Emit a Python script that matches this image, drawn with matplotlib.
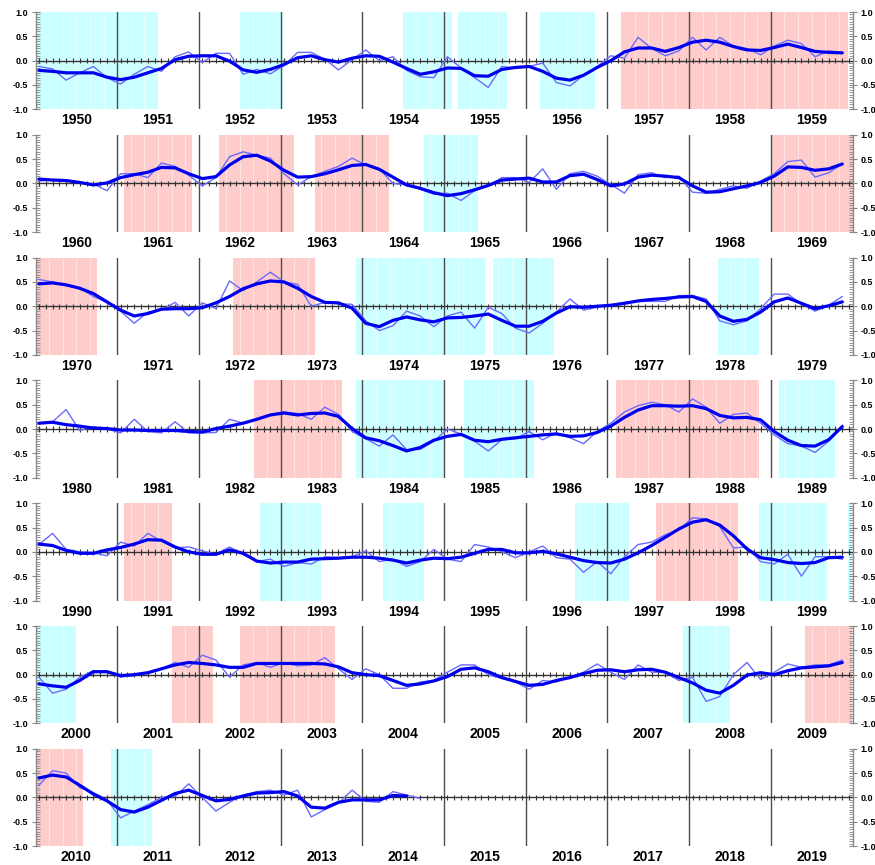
import numpy as np
import matplotlib
matplotlib.use("Agg")
import matplotlib.pyplot as plt
from matplotlib.ticker import MultipleLocator

# ---------------- data (bimonthly values, 6 per year) ----------------
decade_starts = [1950, 1960, 1970, 1980, 1990, 2000, 2010]
ytick_values = [-1.0, -0.5, 0.0, 0.5, 1.0]
ytick_labels = ["-1.0", "-0.5", "0.0", "0.5", "1.0"]

thin_1950s = [-0.12, -0.17, -0.40, -0.25, -0.12, -0.35,
              -0.48, -0.28, -0.12, -0.22, 0.08, 0.18,
              -0.04, 0.15, 0.15, -0.28, -0.18, -0.27,
              -0.10, 0.17, 0.17, 0.03, -0.19, 0.02,
              0.22, 0.00, 0.08, -0.20, -0.33, -0.35,
              0.08, -0.15, -0.35, -0.55, -0.12, -0.15,
              -0.12, -0.05, -0.45, -0.52, -0.30, -0.12,
              0.10, 0.05, 0.48, 0.25, 0.10, 0.20,
              0.48, 0.22, 0.48, 0.30, 0.25, 0.12,
              0.30, 0.42, 0.35, 0.08, 0.20, 0.17]
thick_1950s = [-0.20, -0.22, -0.25, -0.25, -0.25, -0.34,
               -0.39, -0.34, -0.25, -0.16, 0.02, 0.09,
               0.10, 0.10, -0.01, -0.19, -0.24, -0.18,
               -0.08, 0.06, 0.10, 0.02, -0.03, 0.05,
               0.10, 0.09, -0.03, -0.16, -0.28, -0.23,
               -0.15, -0.16, -0.31, -0.32, -0.18, -0.14,
               -0.12, -0.22, -0.36, -0.40, -0.30, -0.14,
               0.00, 0.18, 0.26, 0.26, 0.19, 0.27,
               0.38, 0.42, 0.38, 0.29, 0.22, 0.21,
               0.27, 0.34, 0.27, 0.19, 0.17, 0.16]

thin_1960s = [0.05, 0.07, 0.07, 0.01, -0.01, -0.15,
              0.20, 0.20, 0.12, 0.42, 0.35, 0.17,
              -0.05, 0.12, 0.55, 0.65, 0.58, 0.52,
              0.20, -0.03, 0.14, 0.25, 0.35, 0.52,
              0.38, 0.30, 0.00, -0.03, -0.12, -0.22,
              -0.20, -0.35, -0.15, -0.05, 0.12, 0.12,
              0.02, 0.30, -0.12, 0.20, 0.25, 0.15,
              -0.02, -0.20, 0.18, 0.22, 0.12, 0.15,
              -0.18, -0.20, -0.12, -0.05, -0.10, 0.05,
              0.20, 0.45, 0.48, 0.13, 0.22, 0.40]
thick_1960s = [0.09, 0.07, 0.06, 0.02, -0.03, 0.01,
               0.12, 0.18, 0.23, 0.33, 0.32, 0.20,
               0.10, 0.14, 0.38, 0.55, 0.58, 0.46,
               0.27, 0.13, 0.14, 0.20, 0.28, 0.37,
               0.39, 0.29, 0.13, -0.03, -0.10, -0.19,
               -0.25, -0.21, -0.13, -0.04, 0.07, 0.09,
               0.11, 0.03, 0.03, 0.16, 0.19, 0.08,
               -0.05, -0.01, 0.13, 0.17, 0.15, 0.12,
               -0.05, -0.18, -0.17, -0.11, -0.05, 0.02,
               0.15, 0.34, 0.33, 0.27, 0.30, 0.40]

thin_1970s = [0.55, 0.50, 0.42, 0.38, 0.20, 0.08,
              -0.10, -0.35, -0.12, -0.08, 0.08, -0.20,
              0.07, -0.05, 0.52, 0.32, 0.50, 0.70,
              0.50, 0.45, 0.00, 0.08, 0.05, 0.04,
              -0.30, -0.50, -0.40, -0.10, -0.20, -0.42,
              -0.20, -0.12, -0.45, -0.02, -0.15, -0.45,
              -0.55, -0.35, -0.12, 0.15, -0.08, -0.02,
              0.03, 0.08, 0.10, 0.10, 0.10, 0.22,
              0.22, 0.15, -0.30, -0.38, -0.30, -0.05,
              0.25, 0.25, 0.05, -0.10, 0.02, 0.20]
thick_1970s = [0.46, 0.48, 0.44, 0.37, 0.26, 0.09,
               -0.08, -0.20, -0.15, -0.06, -0.05, -0.05,
               -0.03, 0.07, 0.20, 0.36, 0.46, 0.52,
               0.50, 0.37, 0.20, 0.08, 0.07, -0.04,
               -0.35, -0.42, -0.29, -0.22, -0.28, -0.32,
               -0.24, -0.23, -0.20, -0.16, -0.29, -0.41,
               -0.41, -0.31, -0.14, -0.01, -0.02, 0.00,
               0.02, 0.06, 0.11, 0.14, 0.16, 0.19,
               0.20, 0.10, -0.20, -0.31, -0.27, -0.12,
               0.09, 0.17, 0.06, -0.05, 0.01, 0.09]

thin_1980s = [0.12, 0.15, 0.40, -0.03, 0.05, 0.00,
              -0.08, 0.20, -0.05, -0.08, 0.15, -0.08,
              -0.08, -0.07, 0.20, 0.12, 0.20, 0.30,
              0.35, 0.32, 0.20, 0.45, 0.30, -0.05,
              -0.20, -0.35, -0.12, -0.42, -0.42, -0.25,
              0.00, -0.10, -0.25, -0.45, -0.22, -0.20,
              -0.05, -0.22, -0.08, -0.18, -0.30, -0.05,
              0.12, 0.35, 0.48, 0.55, 0.50, 0.35,
              0.62, 0.45, 0.12, 0.30, 0.33, 0.12,
              -0.12, -0.30, -0.35, -0.48, -0.25, 0.08]
thick_1980s = [0.12, 0.14, 0.09, 0.06, 0.02, 0.01,
               -0.02, -0.02, -0.03, -0.03, -0.03, -0.05,
               -0.06, 0.01, 0.06, 0.12, 0.20, 0.29,
               0.33, 0.29, 0.32, 0.33, 0.26, 0.01,
               -0.18, -0.24, -0.34, -0.45, -0.38, -0.23,
               -0.15, -0.11, -0.23, -0.26, -0.21, -0.18,
               -0.15, -0.12, -0.10, -0.15, -0.14, -0.07,
               0.06, 0.24, 0.39, 0.48, 0.48, 0.47,
               0.48, 0.42, 0.28, 0.23, 0.24, 0.19,
               -0.05, -0.23, -0.34, -0.35, -0.22, 0.05]

thin_1990s = [0.15, 0.38, 0.05, 0.00, -0.02, -0.08,
              0.20, 0.12, 0.38, 0.22, 0.08, 0.10,
              0.02, -0.05, 0.10, -0.05, -0.20, -0.15,
              -0.30, -0.22, -0.25, -0.10, -0.12, -0.10,
              0.02, -0.20, -0.15, -0.30, -0.20, 0.05,
              -0.15, -0.20, 0.15, 0.10, 0.00, -0.12,
              0.00, 0.12, -0.12, -0.15, -0.42, -0.20,
              -0.45, -0.10, 0.15, 0.20, 0.35, 0.45,
              0.70, 0.68, 0.52, 0.08, 0.10, -0.20,
              -0.25, -0.05, -0.50, -0.10, -0.10, -0.15]
thick_1990s = [0.16, 0.13, 0.03, -0.03, -0.03, 0.04,
               0.09, 0.16, 0.25, 0.24, 0.10, 0.00,
               -0.05, -0.05, 0.04, -0.03, -0.19, -0.23,
               -0.21, -0.21, -0.15, -0.14, -0.13, -0.11,
               -0.11, -0.13, -0.17, -0.23, -0.17, -0.13,
               -0.14, -0.11, -0.03, 0.05, 0.05, -0.02,
               -0.02, 0.01, -0.04, -0.11, -0.18, -0.22,
               -0.23, -0.15, -0.02, 0.13, 0.30, 0.47,
               0.61, 0.66, 0.55, 0.33, 0.06, -0.12,
               -0.16, -0.22, -0.24, -0.22, -0.12, -0.11]

thin_2000s = [-0.05, -0.38, -0.30, -0.05, 0.08, 0.08,
              -0.05, -0.02, 0.05, 0.12, 0.25, 0.15,
              0.40, 0.30, -0.05, 0.20, 0.25, 0.15,
              0.25, 0.18, 0.20, 0.35, 0.12, -0.10,
              0.12, 0.00, -0.28, -0.28, -0.15, -0.12,
              0.05, 0.20, 0.20, 0.00, -0.08, -0.15,
              -0.30, -0.12, -0.15, -0.05, 0.05, 0.22,
              0.05, -0.10, 0.20, 0.05, 0.05, -0.12,
              -0.05, -0.55, -0.45, 0.00, 0.25, -0.10,
              0.05, 0.22, 0.15, 0.20, 0.20, 0.30]
thick_2000s = [-0.19, -0.23, -0.26, -0.12, 0.06, 0.06,
               -0.02, 0.00, 0.04, 0.12, 0.20, 0.25,
               0.23, 0.20, 0.15, 0.15, 0.23, 0.23,
               0.23, 0.23, 0.23, 0.22, 0.16, 0.04,
               0.00, -0.02, -0.12, -0.22, -0.19, -0.13,
               -0.04, 0.11, 0.14, 0.06, -0.06, -0.14,
               -0.22, -0.20, -0.12, -0.06, 0.02, 0.09,
               0.10, 0.06, 0.10, 0.11, 0.05, -0.06,
               -0.17, -0.32, -0.38, -0.22, -0.01, 0.04,
               0.00, 0.08, 0.14, 0.16, 0.18, 0.25]

thin_2010s = [0.25, 0.55, 0.50, 0.20, 0.10, -0.05,
              -0.42, -0.28, -0.15, 0.00, 0.02, 0.28,
              0.00, -0.28, -0.10, 0.05, 0.12, 0.15,
              0.05, 0.15, -0.40, -0.25, -0.12, 0.15,
              -0.08, -0.10, 0.12, 0.05, -0.02]
thick_2010s = [0.40, 0.46, 0.42, 0.25, 0.07, -0.07,
               -0.25, -0.30, -0.20, -0.06, 0.08, 0.15,
               0.04, -0.07, -0.04, 0.03, 0.09, 0.10,
               0.12, 0.03, -0.20, -0.22, -0.10, -0.05,
               -0.05, -0.05, 0.04, 0.03]

thin_series = [thin_1950s, thin_1960s, thin_1970s, thin_1980s,
               thin_1990s, thin_2000s, thin_2010s]
thick_series = [thick_1950s, thick_1960s, thick_1970s, thick_1980s,
                thick_1990s, thick_2000s, thick_2010s]

cold_periods = [(1950.0, 1951.5), (1952.5, 1953.03), (1954.5, 1955.1),
                (1955.17, 1955.77), (1956.17, 1956.85), (1964.75, 1965.42),
                (1973.92, 1975.5), (1975.6, 1976.35), (1978.35, 1978.85),
                (1983.92, 1985.0), (1985.25, 1986.1), (1989.1, 1989.78),
                (1992.75, 1993.5), (1994.25, 1994.75), (1996.6, 1997.27),
                (1998.85, 1999.69), (1999.94, 2000.5), (2007.92, 2008.5),
                (2010.92, 2011.42)]
warm_periods = [(1957.17, 1959.95), (1961.08, 1961.92), (1962.25, 1963.17),
                (1963.42, 1964.33), (1969.0, 1970.75), (1972.42, 1973.42),
                (1982.67, 1983.75), (1987.1, 1988.86), (1991.08, 1991.67),
                (1997.6, 1998.6), (2001.67, 2002.17), (2002.5, 2003.67),
                (2009.42, 2010.58)]

# ---------------- style ----------------
plt.rcParams['font.family'] = ['Liberation Sans', 'DejaVu Sans']
plt.rcParams['font.weight'] = 'bold'

W, H = 875, 865
fig = plt.figure(figsize=(W / 100, H / 100), dpi=100)
left_px, right_px = 35.5, 852.5
top0, step, h_px = 12.0, 122.8, 97.3

COLD = '#ccffff'
WARM = '#ffcccc'
AXC = '#888888'

for i, d in enumerate(decade_starts):
    top = top0 + step * i
    ax = fig.add_axes([left_px / W, 1 - (top + h_px) / H,
                       (right_px - left_px) / W, h_px / H])
    ax.set_xlim(d, d + 10)
    ax.set_ylim(-1, 1)

    seams = d + np.arange(0, 121, 2) / 12.0
    for periods, col in ((cold_periods, COLD), (warm_periods, WARM)):
        for a, b in periods:
            if b <= d or a >= d + 10:
                continue
            a2, b2 = max(a, d), min(b, d + 10)
            ax.axvspan(a2, b2, color=col, lw=0, zorder=0)
            s = seams[(seams > a2 + 0.02) & (seams < b2 - 0.02)]
            if len(s):
                ax.vlines(s, -1, 1, color='white', lw=0.6, alpha=0.55, zorder=0.5)

    for y in range(d + 1, d + 10):
        ax.axvline(y, color='#4d4d4d', lw=1.0, zorder=1)

    ax.axhline(0, color='#333333', lw=1.0, zorder=2)
    months = d + (np.arange(120) + 0.5) / 12.0
    ax.vlines(months, -0.055, 0.055, color='#333333', lw=0.8, zorder=2)

    thin = np.array(thin_series[i])
    thick = np.array(thick_series[i])
    t_thin = d + (np.arange(len(thin)) * 2 + 0.5) / 12.0
    t_thick = d + (np.arange(len(thick)) * 2 + 0.5) / 12.0
    ax.plot(t_thin, thin, color='#6a6aff', lw=1.0, zorder=3)
    ax.plot(t_thick, thick, color='#0000ee', lw=2.3, zorder=4,
            solid_capstyle='round', solid_joinstyle='round')

    ax.set_xticks([d + k + 0.5 for k in range(10)])
    ax.set_xticklabels([str(d + k) for k in range(10)], fontsize=10,
                       fontweight='bold')
    ax.tick_params(axis='x', length=0, pad=3)

    ax.set_yticks(ytick_values)
    ax.set_yticklabels(ytick_labels)
    ax.yaxis.set_minor_locator(MultipleLocator(0.05))
    ax.tick_params(axis='y', which='major', left=True, right=True,
                   labelleft=True, labelright=True, direction='inout',
                   length=6, width=0.8, color=AXC, labelsize=6.5, pad=2.5)
    ax.tick_params(axis='y', which='minor', left=True, right=True,
                   direction='in', length=3, width=0.6, color=AXC)

    for side in ('top', 'bottom'):
        ax.spines[side].set_visible(False)
    for side in ('left', 'right'):
        ax.spines[side].set_color(AXC)
        ax.spines[side].set_linewidth(1.0)

fig.savefig('out.png', dpi=100)
